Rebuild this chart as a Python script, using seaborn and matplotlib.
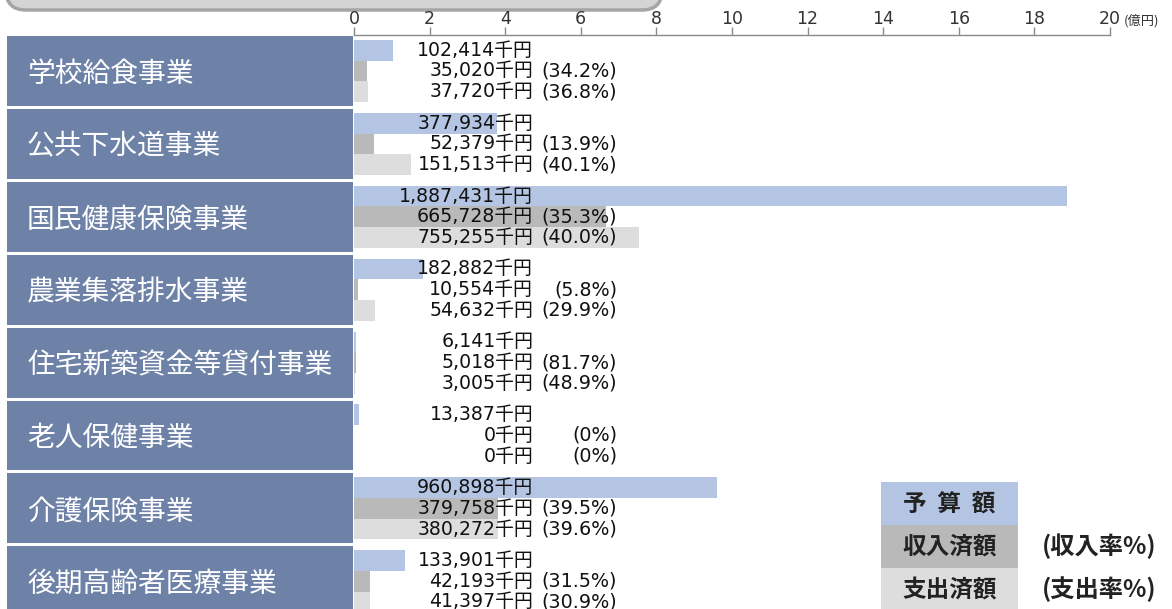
import matplotlib
matplotlib.use("Agg")
import matplotlib.pyplot as plt
import matplotlib.transforms as mtransforms
from matplotlib.patches import Rectangle, FancyBboxPatch
import seaborn as sns
import pandas as pd

# ---- data ----
categories = ["学校給食事業", "公共下水道事業", "国民健康保険事業", "農業集落排水事業",
              "住宅新築資金等貸付事業", "老人保健事業", "介護保険事業", "後期高齢者医療事業"]
series = ["予算額", "収入済額", "支出済額"]
budget = [102414, 377934, 1887431, 182882, 6141, 13387, 960898, 133901]      # 千円
income = [35020, 52379, 665728, 10554, 5018, 0, 379758, 42193]               # 千円
expend = [37720, 151513, 755255, 54632, 3005, 0, 380272, 41397]              # 千円
income_rate = [34.2, 13.9, 35.3, 5.8, 81.7, 0, 39.5, 31.5]                   # %
expend_rate = [36.8, 40.1, 40.0, 29.9, 48.9, 0, 39.6, 30.9]                  # %
x_ticks = [0, 2, 4, 6, 8, 10, 12, 14, 16, 18, 20]
unit_label = "(億円)"
legend_labels = ["予  算  額", "収入済額", "支出済額"]
legend_extra = ["(収入率%)", "(支出率%)"]

rows = []
for c, b, i, e in zip(categories, budget, income, expend):
    rows.append((c, series[0], b / 100000))
    rows.append((c, series[1], i / 100000))
    rows.append((c, series[2], e / 100000))
df = pd.DataFrame(rows, columns=["category", "series", "value"])

W, H = 1172, 609
fig = plt.figure(figsize=(W / 100, H / 100), dpi=100)
fig.patch.set_facecolor("white")

def fx(x):
    return x / W

def fy(y):
    return 1 - y / H

CJK = "Noto Sans CJK JP"
MIX = ["DejaVu Sans", "Noto Sans CJK JP"]

colors = ["#b4c4e3", "#b9b9b9", "#dddddd"]
box_color = "#6e82a8"

# top rounded title frame (partially visible)
frame = FancyBboxPatch((6, H - 10), 656, 80, boxstyle="round,pad=0,rounding_size=20",
                       transform=mtransforms.IdentityTransform(),
                       facecolor="#d4d4d4", edgecolor="#a5a5a5", linewidth=2.5, zorder=0)
fig.add_artist(frame)

ax = fig.add_axes([fx(354), fy(617.7), 756 / W, 583.2 / H])
sns.barplot(data=df, y="category", x="value", hue="series", hue_order=series,
            order=categories, orient="h", palette=colors, width=0.85,
            saturation=1, errorbar=None, legend=False, ax=ax)
ax.set_xlim(0, 20)
ax.set_ylim(len(categories) - 0.5, -0.5)
ax.set_xlabel("")
ax.set_ylabel("")
ax.set_yticks([])
ax.xaxis.tick_top()
ax.set_xticks(x_ticks)
ax.set_xticklabels([str(t) for t in x_ticks], fontsize=12.5, color="#333333",
                   family=["Liberation Sans Narrow", "DejaVu Sans"])
ax.tick_params(axis="x", direction="out", length=6, color="#8a8a8a", width=1, pad=-1)
for s in ["left", "right", "bottom"]:
    ax.spines[s].set_visible(False)
ax.spines["top"].set_color("#8a8a8a")
ax.spines["top"].set_linewidth(1)
ax.set_facecolor("white")

# unit label next to the last tick
unit_tr = mtransforms.offset_copy(
    mtransforms.blended_transform_factory(ax.transData, ax.transAxes),
    fig=fig, x=0, y=5, units="points")
ax.text(20.37, 1.0, unit_label, transform=unit_tr, ha="left", va="bottom",
        fontsize=9.5, color="#333333", family=CJK)

# value labels
bw = 0.85 / 3
for i in range(len(categories)):
    vals = [budget[i], income[i], expend[i]]
    rates = [None, income_rate[i], expend_rate[i]]
    for j in range(3):
        y = i + (j - 1) * bw
        ax.text(4.74, y, f"{vals[j]:,}千円", ha="right", va="center",
                fontsize=13.6, color="#111111", family=MIX)
        if rates[j] is not None:
            r = rates[j]
            rs = "0" if r == 0 else f"{r:.1f}"
            ax.text(6.96, y, f"({rs}%)", ha="right", va="center",
                    fontsize=13.8, color="#111111", family=MIX)

# category label boxes
blend = mtransforms.blended_transform_factory(fig.transFigure, ax.transData)
gap = 1.5 / 72.9
for i, c in enumerate(categories):
    rect = Rectangle((fx(7), i - 0.5 + gap), fx(353) - fx(7), 1 - 2 * gap,
                     transform=blend, facecolor=box_color, edgecolor="none",
                     clip_on=False, zorder=3)
    ax.add_patch(rect)
    ax.text(fx(27), i + 0.04, c, transform=blend, ha="left", va="center",
            fontsize=20, color="white", family=CJK, zorder=4, clip_on=False)

# legend boxes
tops = [482, 525, 568]
for k in range(3):
    r = Rectangle((fx(881), fy(tops[k] + 43)), fx(1018) - fx(881), 43 / H,
                  transform=fig.transFigure, facecolor=colors[k], edgecolor="none")
    fig.add_artist(r)
    fig.text(fx(949.5), fy(tops[k] + 21.5), legend_labels[k], ha="center", va="center",
             fontsize=17, fontweight="bold", color="#222222", family=CJK)
for k in range(2):
    fig.text(fx(1042), fy(tops[k + 1] + 21.5), legend_extra[k], ha="left", va="center",
             fontsize=17.5, fontweight="bold", color="#222222", family=CJK)

fig.savefig("out.png", dpi=100)
